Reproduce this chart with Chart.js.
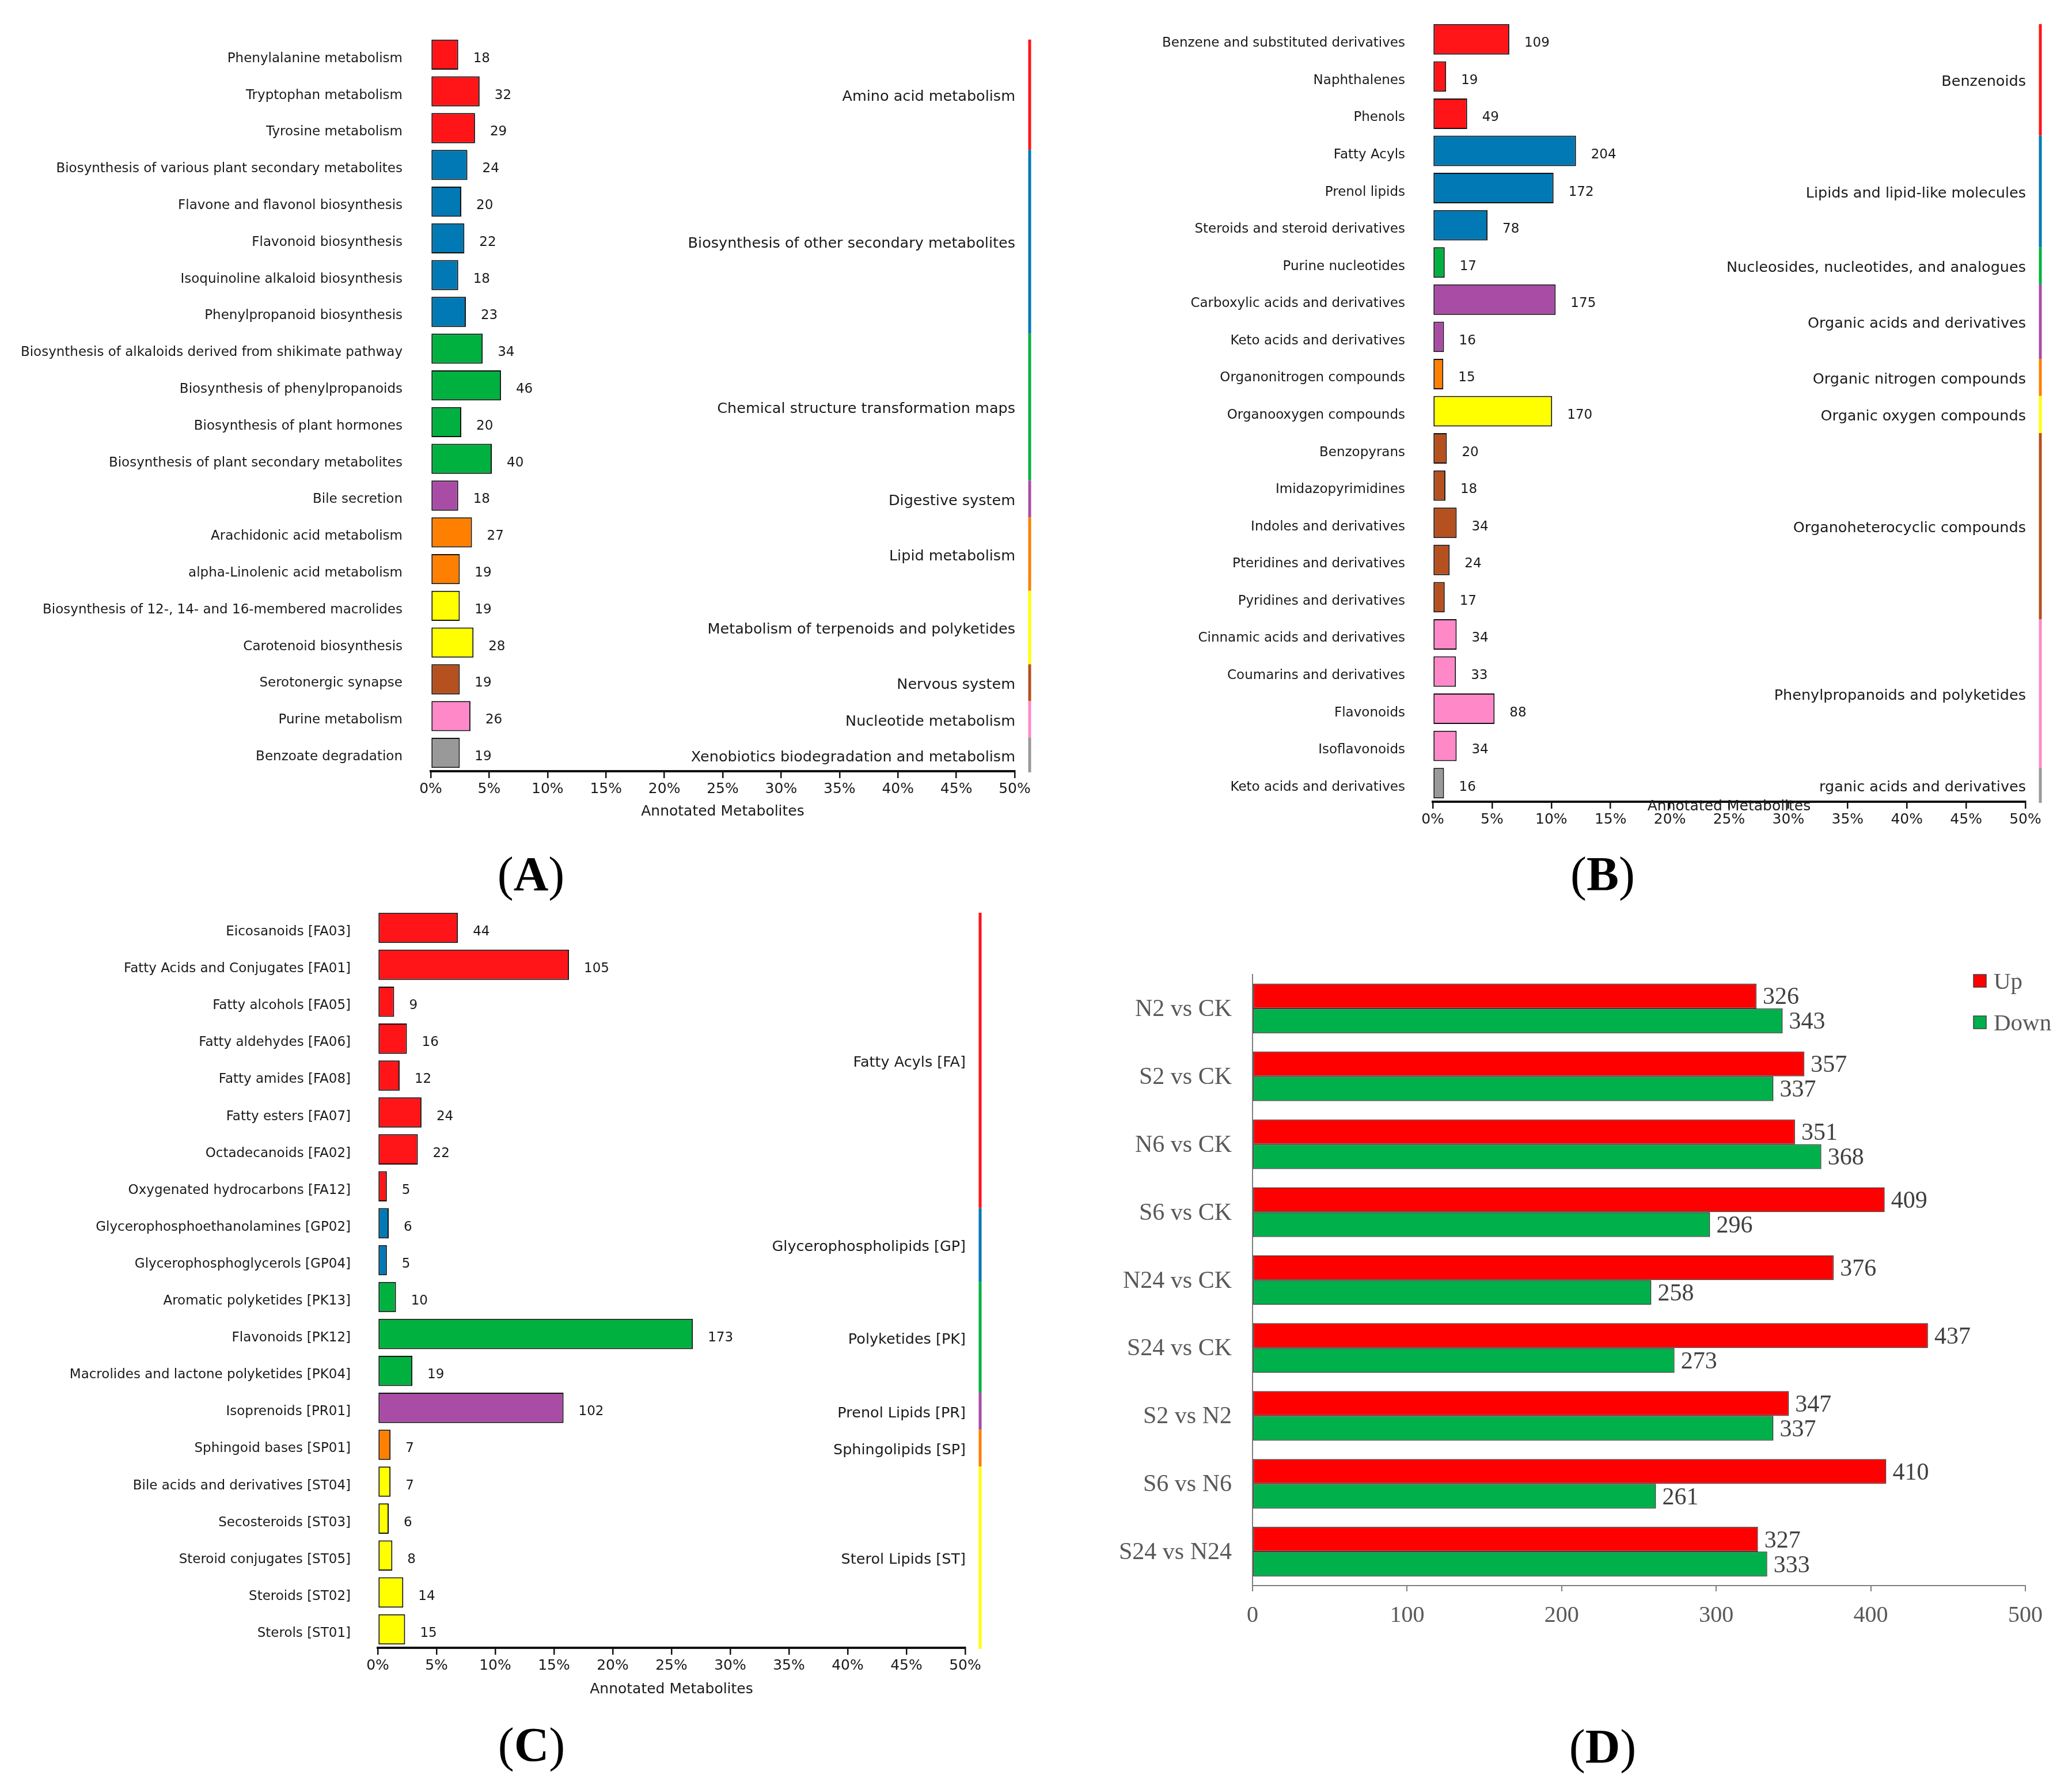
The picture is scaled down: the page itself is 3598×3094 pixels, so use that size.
<!DOCTYPE html>
<html>
<head>
<meta charset="utf-8">
<script src="https://cdn.jsdelivr.net/npm/chart.js@4.4.0/dist/chart.umd.min.js"></script>
<style>
html, body { margin: 0; padding: 0; background: #fff; }
#page { position: relative; width: 3598px; height: 3094px; background: #fff; overflow: hidden; }
.panel { position: absolute; }
.tag { position: absolute; font-family: "Liberation Serif", serif; font-size: 84px; color: #000;
       transform: translate(-50%, -50%); white-space: nowrap; line-height: 1; }
.tag b { font-weight: bold; }
</style>
</head>
<body>
<div id="page">
    <canvas id="chartA" class="panel" width="1830" height="1440" style="left:0px;top:0px"></canvas>
    <canvas id="chartB" class="panel" width="1768" height="1460" style="left:1830px;top:0px"></canvas>
    <canvas id="chartC" class="panel" width="1830" height="1480" style="left:0px;top:1500px"></canvas>
    <canvas id="chartD" class="panel" width="1768" height="1400" style="left:1830px;top:1500px"></canvas>
    <div class="tag" style="left:922px;top:1518px">(<b>A</b>)</div>
    <div class="tag" style="left:2783px;top:1518px">(<b>B</b>)</div>
    <div class="tag" style="left:923px;top:3030px">(<b>C</b>)</div>
    <div class="tag" style="left:2783px;top:3033px">(<b>D</b>)</div>
</div>

<script>
// ============================
// DATA
// ============================

const percentTicks = [0, 5, 10, 15, 20, 25, 30, 35, 40, 45, 50];

const groupColors = ['#ff1418', '#0079b5', '#00b140', '#a94ca6', '#ff7f00', '#ffff00', '#b5501f', '#ff88c8', '#999999'];

// (A) KEGG pathways
const pathwayNames = [
    'Phenylalanine metabolism', 'Tryptophan metabolism', 'Tyrosine metabolism',
    'Biosynthesis of various plant secondary metabolites', 'Flavone and flavonol biosynthesis',
    'Flavonoid biosynthesis', 'Isoquinoline alkaloid biosynthesis', 'Phenylpropanoid biosynthesis',
    'Biosynthesis of alkaloids derived from shikimate pathway', 'Biosynthesis of phenylpropanoids',
    'Biosynthesis of plant hormones', 'Biosynthesis of plant secondary metabolites',
    'Bile secretion', 'Arachidonic acid metabolism', 'alpha-Linolenic acid metabolism',
    'Biosynthesis of 12-, 14- and 16-membered macrolides', 'Carotenoid biosynthesis',
    'Serotonergic synapse', 'Purine metabolism', 'Benzoate degradation'
];
const pathwayCounts = [18, 32, 29, 24, 20, 22, 18, 23, 34, 46, 20, 40, 18, 27, 19, 19, 28, 19, 26, 19];
const pathwayGroups = [
    'Amino acid metabolism', 'Biosynthesis of other secondary metabolites',
    'Chemical structure transformation maps', 'Digestive system', 'Lipid metabolism',
    'Metabolism of terpenoids and polyketides', 'Nervous system', 'Nucleotide metabolism',
    'Xenobiotics biodegradation and metabolism'
];
const pathwayGroupSizes = [3, 5, 4, 1, 2, 2, 1, 1, 1];
const pathwayTotal = 765;

// (B) HMDB classes
const hmdbNames = [
    'Benzene and substituted derivatives', 'Naphthalenes', 'Phenols',
    'Fatty Acyls', 'Prenol lipids', 'Steroids and steroid derivatives',
    'Purine nucleotides', 'Carboxylic acids and derivatives', 'Keto acids and derivatives',
    'Organonitrogen compounds', 'Organooxygen compounds',
    'Benzopyrans', 'Imidazopyrimidines', 'Indoles and derivatives',
    'Pteridines and derivatives', 'Pyridines and derivatives',
    'Cinnamic acids and derivatives', 'Coumarins and derivatives', 'Flavonoids', 'Isoflavonoids',
    'Keto acids and derivatives'
];
const hmdbCounts = [109, 19, 49, 204, 172, 78, 17, 175, 16, 15, 170, 20, 18, 34, 24, 17, 34, 33, 88, 34, 16];
const hmdbGroups = [
    'Benzenoids', 'Lipids and lipid-like molecules', 'Nucleosides, nucleotides, and analogues',
    'Organic acids and derivatives', 'Organic nitrogen compounds', 'Organic oxygen compounds',
    'Organoheterocyclic compounds', 'Phenylpropanoids and polyketides', 'rganic acids and derivatives'
];
const hmdbGroupSizes = [3, 3, 1, 2, 1, 1, 5, 4, 1];
const hmdbTotal = 1688;

// (C) LIPID MAPS classes
const lipidNames = [
    'Eicosanoids [FA03]', 'Fatty Acids and Conjugates [FA01]', 'Fatty alcohols [FA05]',
    'Fatty aldehydes [FA06]', 'Fatty amides [FA08]', 'Fatty esters [FA07]', 'Octadecanoids [FA02]',
    'Oxygenated hydrocarbons [FA12]', 'Glycerophosphoethanolamines [GP02]', 'Glycerophosphoglycerols [GP04]',
    'Aromatic polyketides [PK13]', 'Flavonoids [PK12]', 'Macrolides and lactone polyketides [PK04]',
    'Isoprenoids [PR01]', 'Sphingoid bases [SP01]', 'Bile acids and derivatives [ST04]',
    'Secosteroids [ST03]', 'Steroid conjugates [ST05]', 'Steroids [ST02]', 'Sterols [ST01]'
];
const lipidCounts = [44, 105, 9, 16, 12, 24, 22, 5, 6, 5, 10, 173, 19, 102, 7, 7, 6, 8, 14, 15];
const lipidGroups = [
    'Fatty Acyls [FA]', 'Glycerophospholipids [GP]', 'Polyketides [PK]',
    'Prenol Lipids [PR]', 'Sphingolipids [SP]', 'Sterol Lipids [ST]'
];
const lipidGroupSizes = [8, 2, 3, 1, 1, 5];
const lipidTotal = 645;

// (D) differential metabolites
const comparisons = ['N2 vs CK', 'S2 vs CK', 'N6 vs CK', 'S6 vs CK', 'N24 vs CK', 'S24 vs CK', 'S2 vs N2', 'S6 vs N6', 'S24 vs N24'];
const upCounts = [326, 357, 351, 409, 376, 437, 347, 410, 327];
const downCounts = [343, 337, 368, 296, 258, 273, 337, 261, 333];


// ============================
// CLASS CHARTS (A, B, C)
// ============================

const sans = '"DejaVu Sans", sans-serif';

function classChart(id, names, counts, groups, sizes, total, geo) {

    // bar colour follows its group
    const barColors = [];
    sizes.forEach((n, k) => { for (let i = 0; i < n; i++) barColors.push(groupColors[k]); });

    const decor = {
        id: 'decor',
        afterDatasetsDraw(chart) {
            const ctx = chart.ctx;
            const area = chart.chartArea;
            const y = chart.scales.y;
            const meta = chart.getDatasetMeta(0);

            ctx.save();
            ctx.fillStyle = '#1a1a1a';
            ctx.font = '23px ' + sans;
            ctx.textBaseline = 'middle';

            // value labels
            ctx.textAlign = 'left';
            meta.data.forEach((bar, i) => {
                ctx.fillText(String(counts[i]), bar.x + 26, bar.y + 7);
            });

            // group labels and coloured lines
            ctx.font = '25.5px ' + sans;
            let start = 0;
            groups.forEach((g, k) => {
                const end = start + sizes[k];
                const top = y.getPixelForValue(start - 0.41);
                const bottom = k === groups.length - 1 ? area.bottom + 2 : y.getPixelForValue(end - 0.41);
                ctx.strokeStyle = groupColors[k];
                ctx.lineWidth = 5;
                ctx.beginPath();
                ctx.moveTo(area.right + geo.lineGap, top);
                ctx.lineTo(area.right + geo.lineGap, bottom);
                ctx.stroke();
                ctx.textAlign = 'right';
                ctx.fillText(g, area.right + 1, (top + bottom) / 2 + 4);
                start = end;
            });

            // axis title
            ctx.font = '25px ' + sans;
            ctx.textAlign = 'center';
            ctx.fillText('Annotated Metabolites', (area.left + area.right) / 2, area.bottom + geo.titleGap);
            ctx.restore();
        }
    };

    return new Chart(document.getElementById(id), {

        type: 'bar',

        data: {
            labels: names,
            datasets: [{
                data: counts,
                backgroundColor: barColors,
                borderColor: '#111',
                borderWidth: 2,
                borderSkipped: false,
                barPercentage: 0.82,
                categoryPercentage: 1
            }]
        },

        options: {
            indexAxis: 'y',
            responsive: false,
            animation: false,
            devicePixelRatio: 1,
            layout: { padding: { top: geo.top, right: geo.right, left: 0, bottom: 0 } },
            plugins: { legend: { display: false }, tooltip: { enabled: false } },
            scales: {
                y: {
                    grid: { display: false, drawTicks: false },
                    border: { display: false },
                    ticks: {
                        autoSkip: false, padding: geo.labelPad, labelOffset: 7,
                        color: '#1a1a1a', font: { family: sans, size: 23 }
                    },
                    afterFit(scale) {
                        scale.width = geo.yWidth;
                        scale.paddingTop = 0;
                        scale.paddingBottom = 0;
                    }
                },
                x: {
                    min: 0,
                    max: total / 2,
                    grid: { drawOnChartArea: false, drawTicks: true, tickLength: 12, color: '#111', lineWidth: 2.5 },
                    border: { display: true, color: '#111', width: 4 },
                    ticks: {
                        padding: 4, maxRotation: 0, color: '#1a1a1a', font: { family: sans, size: 25 },
                        callback: (v) => Math.round(v / total * 100) + '%'
                    },
                    afterBuildTicks(scale) { scale.ticks = percentTicks.map(p => ({ value: p / 100 * total })); },
                    afterFit(scale) { scale.height = geo.xHeight; }
                }
            }
        },

        plugins: [decor]

    });
}

classChart('chartA', pathwayNames, pathwayCounts, pathwayGroups, pathwayGroupSizes, pathwayTotal,
    { yWidth: 748, top: 63, right: 68, xHeight: 101, labelPad: 49, lineGap: 26, titleGap: 70 });

classChart('chartB', hmdbNames, hmdbCounts, hmdbGroups, hmdbGroupSizes, hmdbTotal,
    { yWidth: 658, top: 36, right: 81, xHeight: 68, labelPad: 48, lineGap: 26, titleGap: 8 });

classChart('chartC', lipidNames, lipidCounts, lipidGroups, lipidGroupSizes, lipidTotal,
    { yWidth: 656, top: 79, right: 154, xHeight: 119, labelPad: 47, lineGap: 26, titleGap: 72 });


// ============================
// UP / DOWN (D)
// ============================

const serif = '"Liberation Serif", "Times New Roman", serif';

const upDownDecor = {
    id: 'upDownDecor',
    afterDatasetsDraw(chart) {
        const ctx = chart.ctx;
        const area = chart.chartArea;
        ctx.save();
        ctx.font = '42px ' + serif;
        ctx.fillStyle = '#404040';
        ctx.textAlign = 'left';
        ctx.textBaseline = 'middle';
        chart.data.datasets.forEach((ds, d) => {
            chart.getDatasetMeta(d).data.forEach((bar, i) => {
                ctx.fillText(String(ds.data[i]), bar.x + 11, bar.y + 3);
            });
        });

        // legend
        ctx.font = '41px ' + serif;
        chart.data.datasets.forEach((ds, d) => {
            const cy = area.top + 11 + d * 72;
            const lx = area.right - 90;
            ctx.fillStyle = ds.backgroundColor;
            ctx.fillRect(lx, cy - 11, 22, 22);
            ctx.strokeStyle = '#404040';
            ctx.lineWidth = 1.5;
            ctx.strokeRect(lx, cy - 11, 22, 22);
            ctx.fillStyle = '#595959';
            ctx.fillText(ds.label, lx + 35, cy + 3);
        });
        ctx.restore();
    }
};

new Chart(document.getElementById('chartD'), {

    type: 'bar',

    data: {
        labels: comparisons,
        datasets: [{
            label: 'Up',
            data: upCounts,
            backgroundColor: '#ff0000',
            borderColor: '#3a3a3a',
            borderWidth: 1.5,
            borderSkipped: false,
            barPercentage: 1,
            categoryPercentage: 0.73
        }, {
            label: 'Down',
            data: downCounts,
            backgroundColor: '#00b04a',
            borderColor: '#3a3a3a',
            borderWidth: 1.5,
            borderSkipped: false,
            barPercentage: 1,
            categoryPercentage: 0.73
        }]
    },

    options: {
        indexAxis: 'y',
        responsive: false,
        animation: false,
        devicePixelRatio: 1,
        layout: { padding: { top: 192, right: 81, left: 0, bottom: 0 } },
        plugins: { legend: { display: false }, tooltip: { enabled: false } },
        scales: {
            y: {
                grid: { display: false, drawTicks: false },
                border: { display: true, color: '#7f7f7f', width: 2 },
                ticks: { autoSkip: false, padding: 36, labelOffset: 2, color: '#595959', font: { family: serif, size: 42 } },
                afterFit(scale) {
                    scale.width = 345;
                    scale.paddingTop = 0;
                    scale.paddingBottom = 0;
                }
            },
            x: {
                min: 0,
                max: 500,
                grid: { drawOnChartArea: false, drawTicks: true, tickLength: 10, color: '#7f7f7f', lineWidth: 2 },
                border: { display: true, color: '#7f7f7f', width: 2 },
                ticks: { stepSize: 100, padding: 18, maxRotation: 0, color: '#595959', font: { family: serif, size: 40 } },
                afterFit(scale) { scale.height = 147; }
            }
        }
    },

    plugins: [upDownDecor]

});
</script>
</body>
</html>
